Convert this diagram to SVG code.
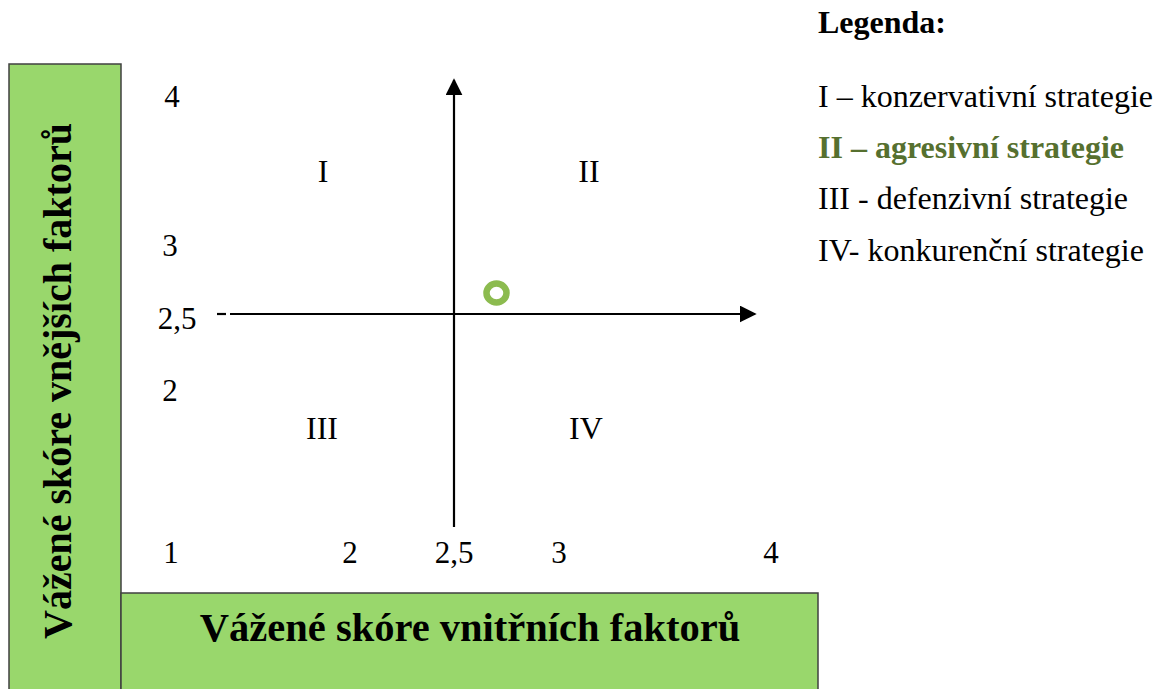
<svg xmlns="http://www.w3.org/2000/svg" width="1164" height="689" viewBox="0 0 1164 689">
<style>
.box{fill:#99d76c;stroke:#404040;stroke-width:1.5}
.ax{stroke:#000;stroke-width:2.2;fill:none}
</style>
<defs>
<marker id="ah" viewBox="0 0 10 10" refX="9" refY="5" markerWidth="17" markerHeight="17" markerUnits="userSpaceOnUse" orient="auto">
<path d="M0,0 L10,5 L0,10 z" fill="#000"/>
</marker>
</defs>
<rect width="1164" height="689" fill="#fff"/>
<g font-family="'Liberation Serif', 'DejaVu Serif', serif">
<g id="yaxis-box">
<rect class="box" x="9" y="64" width="112" height="640"/>
<text font-size="40" font-weight="bold" transform="translate(71,381) rotate(-90)" text-anchor="middle">Vážené skóre vnějších faktorů</text>
</g>
<g id="xaxis-box">
<rect class="box" x="121" y="593" width="697" height="110"/>
<text font-size="40.5" font-weight="bold" x="470" y="641" text-anchor="middle">Vážené skóre vnitřních faktorů</text>
</g>
<g id="connectors">
<line class="ax" x1="454" y1="527" x2="454" y2="80" marker-end="url(#ah)"/>
<line class="ax" x1="230" y1="314" x2="755" y2="314" marker-end="url(#ah)"/>
<line class="ax" x1="217" y1="314" x2="226" y2="314"/>
</g>
<g id="ticks" font-size="31" text-anchor="middle">
<text x="172" y="107">4</text>
<text x="170" y="256">3</text>
<text x="177" y="329">2,5</text>
<text x="170" y="401">2</text>
<text x="171" y="563">1</text>
<text x="350" y="563">2</text>
<text x="454" y="563">2,5</text>
<text x="559" y="563">3</text>
<text x="771" y="563">4</text>
</g>
<g id="quadrants" font-size="32" text-anchor="middle">
<text x="323" y="182">I</text>
<text x="589" y="182">II</text>
<text x="322" y="439">III</text>
<text x="586" y="439">IV</text>
</g>
<g id="point">
<ellipse cx="496.5" cy="293" rx="10" ry="9.5" fill="none" stroke="#8cbb4f" stroke-width="6.5"/>
</g>
<g id="legend" font-size="32">
<text x="818" y="33" font-weight="bold">Legenda:</text>
<text x="818" y="107">I – konzervativní strategie</text>
<text x="818" y="158" font-weight="bold" fill="#56702f">II – agresivní strategie</text>
<text x="818" y="209">III - defenzivní strategie</text>
<text x="818" y="261">IV- konkurenční strategie</text>
</g>
</g>
</svg>
